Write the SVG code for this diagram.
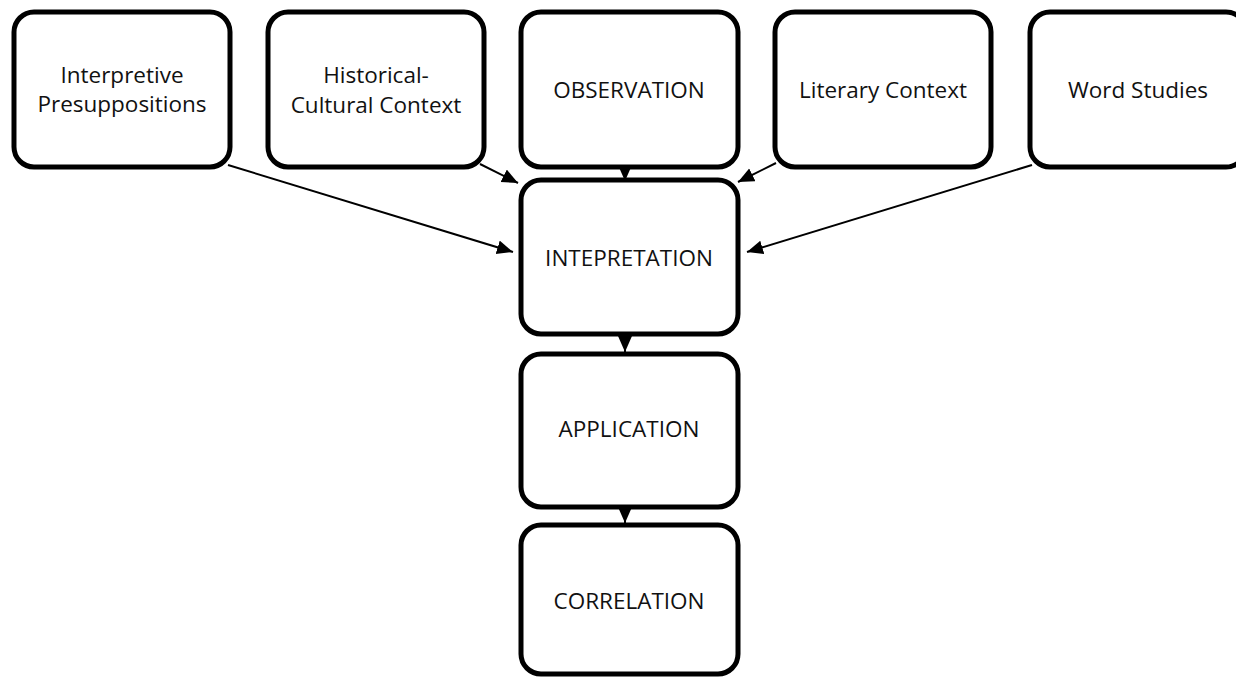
<svg xmlns="http://www.w3.org/2000/svg" width="1236" height="677" viewBox="0 0 1236 677">
<style>
.box{fill:#fff;stroke:#000;stroke-width:5}
.lbl{font-family:"Open Sans","Liberation Sans",Arial,sans-serif;font-size:22.5px;fill:#111;text-anchor:middle}
.con{stroke:#000;stroke-width:2;fill:none}
</style>
<defs>
<marker id="ah" markerUnits="userSpaceOnUse" markerWidth="18" markerHeight="15" refX="16" refY="7" orient="auto">
<path d="M0,0 L16,7 L0,14 Z" fill="#000"/>
</marker>
</defs>
<rect width="1236" height="677" fill="#fff"/>
<g id="connectors">
<line class="con" x1="228" y1="165" x2="513" y2="252" marker-end="url(#ah)"/>
<line class="con" x1="480" y1="164" x2="518" y2="183" marker-end="url(#ah)"/>
<line class="con" x1="625" y1="160" x2="625" y2="181" marker-end="url(#ah)"/>
<line class="con" x1="776" y1="163" x2="738" y2="182" marker-end="url(#ah)"/>
<line class="con" x1="1032" y1="165" x2="747" y2="252" marker-end="url(#ah)"/>
<line class="con" x1="625" y1="334" x2="625" y2="352" marker-end="url(#ah)"/>
<line class="con" x1="625" y1="507" x2="625" y2="523" marker-end="url(#ah)"/>
</g>
<g id="n-interpretive">
<rect class="box" x="14" y="12" width="216" height="155" rx="20"/>
<text class="lbl" x="122" y="83">Interpretive</text>
<text class="lbl" x="122" y="112">Presuppositions</text>
</g>
<g id="n-historical">
<rect class="box" x="268" y="12" width="216" height="155" rx="20"/>
<text class="lbl" x="376" y="83">Historical-</text>
<text class="lbl" x="376" y="113">Cultural Context</text>
</g>
<g id="n-observation">
<rect class="box" x="521" y="12" width="217" height="155" rx="20"/>
<text class="lbl" x="629" y="98">OBSERVATION</text>
</g>
<g id="n-literary">
<rect class="box" x="775" y="12" width="216" height="155" rx="20"/>
<text class="lbl" x="883" y="98">Literary Context</text>
</g>
<g id="n-word">
<rect class="box" x="1030" y="12" width="216" height="155" rx="20"/>
<text class="lbl" x="1138" y="98">Word Studies</text>
</g>
<g id="n-interpretation">
<rect class="box" x="521" y="180" width="217" height="154" rx="20"/>
<text class="lbl" x="629" y="266">INTEPRETATION</text>
</g>
<g id="n-application">
<rect class="box" x="521" y="354" width="217" height="153" rx="20"/>
<text class="lbl" x="629" y="437">APPLICATION</text>
</g>
<g id="n-correlation">
<rect class="box" x="521" y="525" width="217" height="149" rx="20"/>
<text class="lbl" x="629" y="609">CORRELATION</text>
</g>
</svg>
